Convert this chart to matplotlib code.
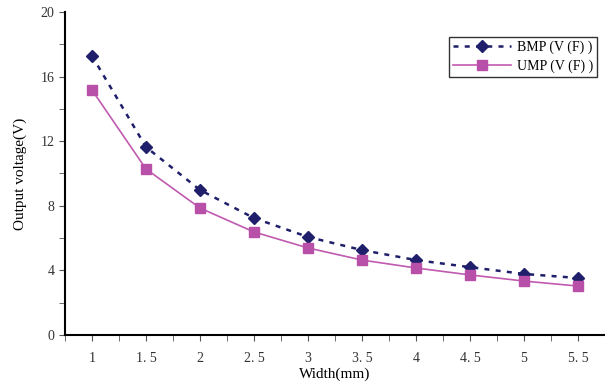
import matplotlib
matplotlib.use('Agg')
import matplotlib.pyplot as plt
from matplotlib.ticker import MultipleLocator

plt.rcParams['font.family'] = ['Liberation Serif', 'DejaVu Serif']

widths = ['1', '1. 5', '2', '2. 5', '3', '3. 5', '4', '4. 5', '5', '5. 5']
bmp = [17.28, 11.64, 8.98, 7.24, 6.07, 5.26, 4.64, 4.20, 3.78, 3.53]
ump = [15.17, 10.28, 7.86, 6.38, 5.39, 4.64, 4.15, 3.72, 3.34, 3.03]

fig = plt.figure(figsize=(6.05, 3.9), dpi=100)
ax = fig.add_axes([65/605, 1-335/390, 1-65/605, (335-12)/390])

pos = list(range(len(widths)))
ax.plot(pos, bmp, linestyle=(0, (2, 2.5)), color='#1f1f6b', linewidth=1.8,
        marker='D', markersize=6.5, markerfacecolor='#1f1f6b', label='BMP (V (F) )')
ax.plot(pos, ump, linestyle='-', color='#c05ab0', linewidth=1.2,
        marker='s', markersize=6.5, markerfacecolor='#b84fa8',
        markeredgecolor='#b84fa8', label='UMP (V (F) )')

ax.set_xlim(-0.5, 9.4)
ax.set_ylim(0, 20)
ax.set_xticks(pos)
ax.set_xticklabels(widths)
ax.set_xticks([p - 0.5 for p in pos] + [9.5], minor=True)
ax.yaxis.set_major_locator(MultipleLocator(4))
ax.yaxis.set_minor_locator(MultipleLocator(2))

ax.spines['top'].set_visible(False)
ax.spines['right'].set_visible(False)
ax.spines['left'].set_linewidth(1.5)
ax.spines['bottom'].set_linewidth(1.5)

ax.tick_params(axis='x', which='both', direction='out', length=4, color='#555555',
               labelsize=10, pad=8, labelcolor='#333333')
ax.tick_params(axis='y', which='both', direction='out', length=4, color='#555555',
               labelsize=10, labelcolor='#333333')

ax.set_xlabel('Width(mm)', fontsize=11, labelpad=2)
ax.set_ylabel('Output voltage(V)', fontsize=11, labelpad=10)

leg = ax.legend(loc='upper right', bbox_to_anchor=(0.998, 0.945), fontsize=10,
                frameon=True, fancybox=False, edgecolor='black', handlelength=4.2,
                borderpad=0.3, labelspacing=0.35, handletextpad=0.4)
leg.get_frame().set_linewidth(1.0)

fig.savefig('out.png', dpi=100)
